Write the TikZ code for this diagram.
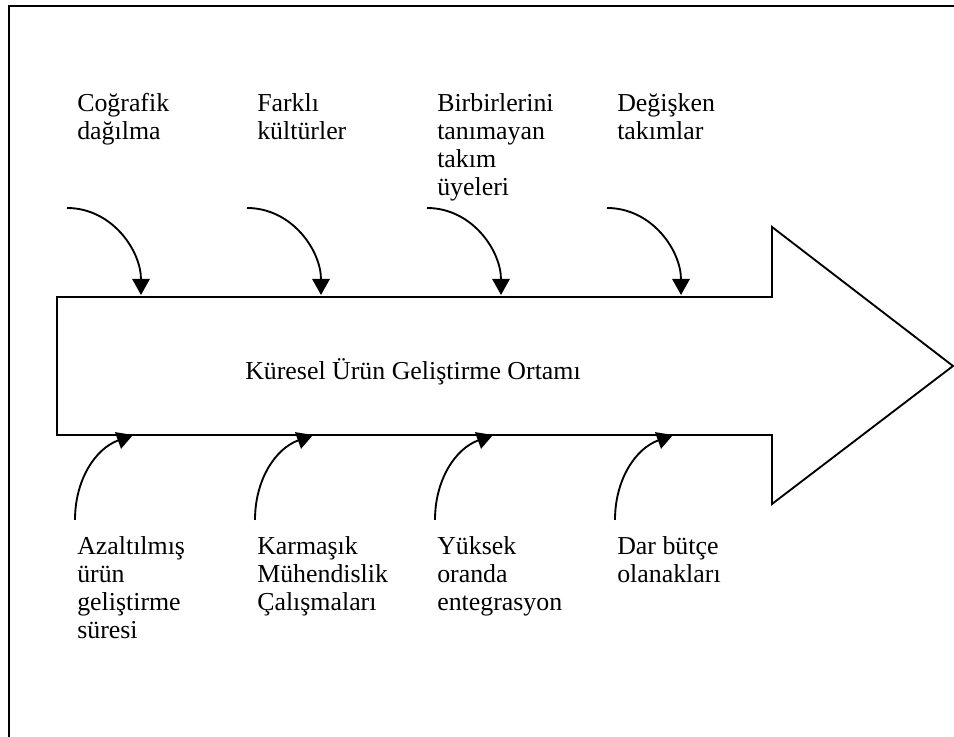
\documentclass[tikz,border=0pt]{standalone}
\usepackage{fontspec}
\setmainfont{Liberation Serif}
\usetikzlibrary{arrows.meta}
\begin{document}
\begin{tikzpicture}[x=0.75pt,y=0.75pt,
  frameline/.style={line width=2.2pt},
  bodyline/.style={line width=1.4pt, line join=miter},
  feed/.style={line width=1.4pt, -{Triangle[length=12pt,width=13pt]}},
  lbl/.style={anchor=base west, inner sep=0pt, align=left,
    font=\fontsize{19.4pt}{21pt}\selectfont},
  title/.style={anchor=base, inner sep=0pt,
    font=\fontsize{19.4pt}{21pt}\selectfont}]
\useasboundingbox (0,0) rectangle (954,737);
% page frame (runs off the right and bottom edges)
\draw[frameline] (9,-10) -- (9,731) -- (970,731);
% the big block arrow
\coordinate (bl) at (57,302);
\coordinate (tl) at (57,440);
\draw[bodyline] (tl) -- (772,440) -- (772,510) -- (953,371) -- (772,233) -- (772,302) -- (bl) -- cycle;
\node[title] (main) at (413,357) {Küresel Ürün Geliştirme Ortamı};
% top labels (anchored at the baseline of their last line)
\node[lbl] (t1) at (77,597) {Coğrafik\\dağılma};
\node[lbl] (t2) at (257,597) {Farklı\\kültürler};
\node[lbl] (t3) at (437,541) {Birbirlerini\\tanımayan\\takım\\üyeleri};
\node[lbl] (t4) at (617,597) {Değişken\\takımlar};
% bottom labels
\node[lbl] (b1) at (77,98) {Azaltılmış\\ürün\\geliştirme\\süresi};
\node[lbl] (b2) at (257,126) {Karmaşık\\Mühendislik\\Çalışmaları};
\node[lbl] (b3) at (437,126) {Yüksek\\oranda\\entegrasyon};
\node[lbl] (b4) at (617,154) {Dar bütçe\\olanakları};
% curved feeds into the arrow
\foreach \i in {0,1,2,3}{
  \coordinate (ts\i) at (67+180*\i,529);
  \coordinate (te\i) at (141+180*\i,442);
  \draw[feed] (ts\i) to[out=0,in=90] (te\i);
  \coordinate (bs\i) at (75+180*\i,217);
  \coordinate (be\i) at (133+180*\i,302);
  \draw[feed] (bs\i) to[out=90,in=200] (be\i);
}
\end{tikzpicture}
\end{document}
